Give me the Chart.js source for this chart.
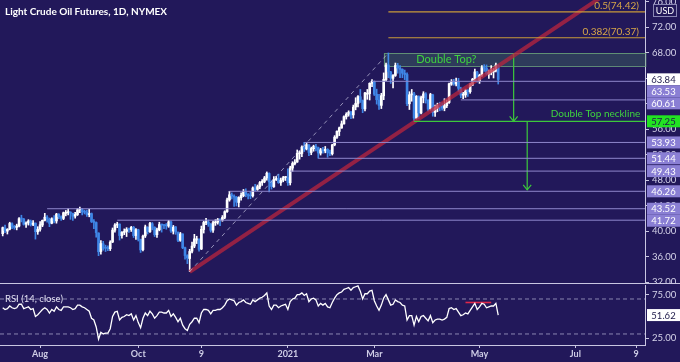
<!DOCTYPE html>
<html>
<head>
<meta charset="utf-8">
<script src="https://cdn.jsdelivr.net/npm/chart.js@4.4.1/dist/chart.umd.min.js"></script>
<style>
  html, body { margin: 0; padding: 0; background: #22185a; }
  #wrap { position: relative; width: 680px; height: 362px; overflow: hidden; }
  #price { position: absolute; left: 0; top: 0; }
  #rsi { position: absolute; left: 0; top: 284px; }
</style>
</head>
<body>
<div id="wrap">
  <canvas id="price" width="680" height="284"></canvas>
  <canvas id="rsi" width="680" height="78"></canvas>
</div>
<script>
// daily candles [open, high, low, close], Jul 10 2020 .. May 13 2021
var ohlc = [
  // Jul
  [39.60,40.65,39.25,40.55],[40.50,40.95,39.75,40.10],[40.00,40.40,39.55,40.29],[40.30,41.40,40.20,41.20],
  [41.15,41.30,40.40,40.75],[40.70,40.90,40.30,40.59],[40.60,41.10,40.20,40.81],[40.80,42.15,40.65,41.96],
  [41.95,42.50,41.45,41.90],[41.90,42.00,40.95,41.07],[41.10,41.45,40.60,41.29],[41.30,41.80,40.95,41.60],
  [41.55,41.75,40.80,41.04],[41.05,41.65,40.85,41.27],[41.25,41.30,38.75,39.92],[39.90,40.70,39.50,40.27],
  // Aug
  [40.30,41.50,40.00,41.01],[40.95,41.75,40.70,41.70],[41.70,42.80,41.60,42.19],[42.20,42.45,41.40,41.95],
  [41.90,42.05,40.70,41.22],[41.25,42.10,41.15,41.94],[41.95,42.45,41.30,41.61],[41.60,42.80,41.25,42.67],
  [42.65,42.75,41.95,42.24],[42.25,42.40,41.70,42.01],[42.00,43.00,41.80,42.89],[42.80,43.25,42.40,42.89],
  [42.90,43.50,42.55,42.93],[42.90,43.05,41.85,42.82],[42.80,42.85,41.70,42.34],[42.35,42.95,42.05,42.62],
  [42.60,43.55,42.45,43.35],[43.35,43.78,42.90,43.39],[43.40,43.55,42.55,43.04],[43.00,43.30,42.70,42.97],
  [42.95,43.30,42.30,42.61],
  // Sep
  [42.60,43.45,42.25,42.76],[42.75,42.85,41.35,41.51],[41.50,41.80,40.40,41.37],[41.35,41.45,39.05,39.77],
  [39.70,39.75,36.15,36.76],[36.80,38.50,36.40,38.05],[38.00,38.40,37.00,37.30],[37.35,37.80,36.80,37.33],
  [37.30,37.70,36.95,37.26],[37.25,38.50,36.95,38.28],[38.30,40.50,38.20,40.16],[40.15,41.20,39.85,40.97],
  [40.95,41.40,40.55,41.11],[41.10,41.15,38.60,39.31],[39.30,39.95,38.90,39.80],[39.80,40.35,39.45,39.93],
  [39.95,40.55,39.15,40.31],[40.30,40.50,39.80,40.25],[40.25,40.75,39.95,40.60],[40.60,40.75,39.00,39.29],
  [39.30,40.40,38.70,40.22],
  // Oct
  [40.20,40.30,38.45,38.72],[38.70,38.75,36.65,37.05],[37.10,39.40,36.90,39.22],[39.25,40.95,39.00,40.67],
  [40.60,40.70,39.55,39.95],[39.90,41.40,39.80,41.19],[41.15,41.35,40.20,40.60],[40.60,40.70,39.15,39.43],
  [39.45,40.50,39.00,40.20],[40.20,41.40,40.05,41.04],[41.00,41.10,39.85,40.96],[40.95,41.05,40.40,40.88],
  [40.85,41.20,40.30,40.83],[40.80,41.70,40.60,41.46],[41.45,41.60,39.80,40.03],[40.00,40.90,39.55,40.64],
  [40.65,40.75,39.50,39.85],[39.80,39.90,38.35,38.56],[38.55,39.80,38.40,39.57],[39.55,39.60,37.25,37.39],
  [37.40,37.50,35.60,36.17],[36.15,36.30,34.90,35.79],
  // Nov
  [35.70,37.15,33.64,36.81],[36.85,38.30,36.60,37.66],[37.65,39.50,37.40,38.79],[38.60,39.20,38.05,38.79],
  [38.75,38.80,36.85,37.14],[37.20,40.80,37.10,40.29],[40.25,41.55,39.70,41.36],[41.35,42.00,41.00,41.45],
  [41.40,41.75,40.75,41.12],[41.10,41.20,39.85,40.13],[40.15,41.60,39.80,41.34],[41.30,41.80,40.90,41.43],
  [41.40,42.00,41.10,41.82],[41.80,41.95,40.85,41.74],[41.75,42.45,41.55,42.15],[42.15,43.20,41.95,43.06],
  [43.05,45.20,42.95,44.91],[44.90,46.25,44.70,45.71],[45.70,46.00,45.05,45.53],[45.50,45.70,43.90,45.34],
  // Dec
  [45.35,45.45,43.95,44.55],[44.50,45.40,43.80,45.28],[45.25,46.00,44.85,45.64],[45.60,46.55,45.40,46.26],
  [46.25,46.65,45.40,45.76],[45.75,45.90,45.05,45.60],[45.60,46.20,45.10,45.52],[45.55,46.95,45.35,46.78],
  [46.75,47.35,46.30,46.57],[46.55,47.25,46.40,46.99],[46.95,47.80,46.65,47.62],[47.60,48.10,47.20,47.82],
  [47.80,48.60,47.60,48.36],[48.35,49.30,48.00,49.10],[49.05,49.15,46.15,47.74],[47.75,47.95,46.60,47.02],
  [47.00,48.55,46.85,48.12],[48.10,48.60,47.95,48.23],[48.25,48.95,47.50,47.62],[47.60,48.35,47.20,48.00],
  [48.00,48.60,47.75,48.40],[48.40,48.60,47.95,48.52],
  // Jan
  [48.40,49.80,47.20,47.62],[47.60,50.20,47.25,49.93],[49.90,50.90,49.40,50.63],[50.60,51.25,50.40,50.83],
  [50.85,52.75,50.80,52.24],[52.15,52.60,51.30,52.25],[52.20,53.40,51.70,53.21],[53.20,53.95,52.50,52.91],
  [52.90,53.90,52.75,53.57],[53.55,53.60,51.85,52.36],[52.35,53.20,52.00,52.98],[52.95,53.50,52.55,53.31],
  [53.30,53.65,52.60,53.13],[53.10,53.20,51.45,52.27],[52.25,53.00,51.95,52.77],[52.75,53.15,52.25,52.61],
  [52.60,53.30,52.30,52.85],[52.85,52.95,51.60,52.34],[52.30,52.75,51.85,52.20],
  // Feb
  [52.15,53.65,51.95,53.55],[53.55,55.00,53.40,54.76],[54.75,55.75,54.55,55.69],[55.65,56.35,55.00,56.23],
  [56.20,57.30,56.15,56.85],[56.85,58.10,56.80,57.97],[57.95,58.60,57.60,58.36],[58.35,58.90,58.05,58.68],
  [58.65,58.80,57.65,58.24],[58.25,59.80,57.75,59.47],[59.50,60.95,59.05,60.05],[60.05,61.30,59.50,61.14],
  [61.10,62.25,60.20,60.52],[60.50,60.60,58.60,59.24],[59.20,61.80,58.90,61.70],[61.50,62.25,60.70,61.67],
  [61.60,63.30,60.60,63.22],[63.20,63.80,62.70,63.53],[63.50,63.60,61.30,61.50],
  // Mar
  [61.50,62.30,59.95,60.64],[60.60,61.50,59.10,59.75],[59.75,61.65,59.25,61.28],[61.25,64.85,60.65,63.83],
  [63.80,66.40,63.60,66.09],[66.10,67.98,64.10,65.05],[65.00,65.10,63.20,64.01],[64.00,64.60,62.50,64.44],
  [64.45,66.40,64.30,66.02],[66.00,66.35,64.80,65.61],[65.60,66.00,64.10,65.39],[65.40,65.50,64.10,64.80],
  [64.80,65.30,63.80,64.60],[64.60,64.85,59.70,60.00],[60.00,61.90,59.10,61.42],[61.40,62.25,60.40,61.55],
  [61.55,61.80,57.25,57.76],[57.75,61.30,57.60,61.18],[61.15,61.25,57.65,58.56],[58.55,61.20,58.40,60.97],
  [60.95,61.90,60.15,61.56],[61.55,61.75,60.10,60.55],[60.55,60.65,58.85,59.16],
  // Apr
  [59.20,61.65,59.00,61.45],[61.40,61.50,58.05,58.65],[58.65,59.80,58.00,59.33],[59.35,60.10,58.75,59.77],
  [59.75,60.25,58.90,59.60],[59.60,60.15,59.00,59.32],[59.30,60.80,58.90,59.70],[59.70,60.60,59.40,60.18],
  [60.20,63.25,60.05,63.15],[63.10,63.80,62.90,63.46],[63.45,63.85,62.90,63.13],[63.10,64.05,62.80,63.38],
  [63.40,64.00,61.95,62.44],[62.40,62.60,60.95,61.35],[61.35,61.80,60.80,61.43],[61.40,62.30,61.00,62.14],
  [62.10,62.25,61.15,61.91],[61.90,63.20,61.65,62.94],[62.95,64.00,62.85,63.86],[63.85,65.45,63.60,65.01],
  [65.00,65.10,63.40,63.58],
  // May
  [63.60,64.65,63.20,64.49],[64.50,66.00,64.30,65.69],[65.70,66.15,65.10,65.63],[65.60,66.10,64.55,64.71],
  [64.70,65.30,64.00,64.90],[64.95,66.00,64.55,65.28],[65.00,65.55,64.05,65.28],[65.25,66.40,65.00,66.08],
  [66.05,66.15,63.10,63.82]
];

var rsi = [
  60,58,59,62,60,59,60,64,64,59,60,61,58,59,50,52,
  55,58,60,58,54,58,56,61,58,57,61,61,61,60,58,59,63,63,61,60,58,
  56,48,46,38,24,32,30,31,31,36,50,55,56,46,49,50,52,51,53,46,51,
  43,37,48,54,51,56,53,48,51,55,55,54,54,57,50,53,49,44,48,40,36,34,
  41,44,48,48,43,54,58,58,57,53,57,57,58,58,60,63,68,70,69,68,
  63,66,67,69,66,65,64,69,67,69,71,72,74,77,62,58,63,63,60,62,63,64,
  58,67,70,71,75,75,77,74,76,67,70,71,69,62,65,63,65,61,60,
  66,71,75,77,78,81,82,83,80,83,84,85,79,70,76,76,79,80,68,
  62,57,63,71,75,69,63,64,69,67,66,63,62,46,51,51,40,50,44,50,51,48,45,
  51,43,46,47,47,46,47,49,59,60,58,59,55,51,52,54,53,57,61,65,58,
  61,65,64,60,61,62,62,65,51.62
];

var xTickIdx = [16, 58, 85, 122, 159, 204, 245, 271];
var xTickLabels = ['Aug', 'Oct', '9', '2021', 'Mar', 'May', 'Jul', '9'];
var priceTicks = [32, 36, 40, 44, 48, 52, 56, 60, 64, 68, 72, 76];
var rsiTicks = [25, 75];

var lastPrice = 63.84;
var levelValues = [63.53, 60.61, 53.93, 51.44, 49.43, 46.26, 43.52, 41.72];
var levelStarts = [158, 196, 129, 135, 123, 97, 19, 49];
var neckline = 57.25, necklineStart = 176;
var fibValues = [74.42, 70.37];
var fibLabels = ['0.5(74.42)', '0.382(70.37)'];
var fibStart = 165;
var topBox = [163, 65.95, 67.98];          // start index, low, high
var trendLine = [[80, 33.6], [262, 78.2]];
var dashLine = [[80, 33.64], [165, 67.98]];
var arrows = [[218.6, 67.98, 57.25], [224.4, 57.25, 46.5]];
var rsiMark = [[198, 66], [209, 66]];

var xMin = -1.16, xMax = 274.8;
var BG = '#22185a', UP = '#ffffff', DOWN = '#3f86e6';
var AXIS = '#c9c6e2', LEVEL = '#8f87cc', TAG = '#8a7fd4', GREEN = '#3cc83c', GOLD = '#c99a3a';

Chart.defaults.font.family = 'Lato';

var candleColor = ohlc.map(function(d) { return d[3] >= d[0] ? UP : DOWN; });

function seg(pts, color, width, dash) {
  return {
    type: 'line',
    data: pts.map(function(p) { return {x: p[0], y: p[1]}; }),
    borderColor: color, borderWidth: width || 1, borderDash: dash || [],
    pointRadius: 0, tension: 0, order: 1
  };
}

var priceSets = [
  {
    type: 'bar', grouped: false, order: 10, barThickness: 1,
    data: ohlc.map(function(d, i) { return {x: i, y: [d[2], d[1]]}; }),
    backgroundColor: candleColor
  },
  {
    type: 'bar', grouped: false, order: 9, barThickness: 2, minBarLength: 1,
    data: ohlc.map(function(d, i) { return {x: i, y: [Math.min(d[0], d[3]), Math.max(d[0], d[3])]}; }),
    backgroundColor: candleColor
  }
];
for (var k = 0; k < levelValues.length; k++) {
  priceSets.push(seg([[levelStarts[k], levelValues[k]], [xMax, levelValues[k]]], LEVEL, 1));
}
priceSets.push(seg([[necklineStart, neckline], [xMax, neckline]], GREEN, 1.2));
for (var f = 0; f < fibValues.length; f++) {
  priceSets.push(seg([[fibStart, fibValues[f]], [xMax, fibValues[f]]], GOLD, 1.2));
}
priceSets.push(seg(dashLine, 'rgba(200,198,225,0.7)', 1, [4, 4]));
priceSets.push(seg(trendLine, 'rgba(186,36,62,0.75)', 4));
arrows.forEach(function(a) {
  priceSets.push(seg([[a[0], a[1]], [a[0], a[2]]], GREEN, 1.2));
});

function tag(ctx, x, y, text, bg, fg) {
  ctx.fillStyle = bg;
  ctx.fillRect(x, y - 6, 33, 12);
  ctx.fillStyle = fg;
  ctx.font = '9.5px Lato';
  ctx.textAlign = 'center';
  ctx.textBaseline = 'middle';
  ctx.fillText(text, x + 16.5, y + 0.5);
}

var pricePlugin = {
  id: 'pricePlugin',
  beforeDatasetsDraw: function(chart) {
    var ctx = chart.ctx, xs = chart.scales.x, ys = chart.scales.y;
    var x0 = xs.getPixelForValue(topBox[0]), x1 = xs.getPixelForValue(xMax);
    var yT = ys.getPixelForValue(topBox[2]), yB = ys.getPixelForValue(topBox[1]);
    ctx.save();
    ctx.fillStyle = 'rgba(70,125,95,0.35)';
    ctx.fillRect(x0, yT, x1 - x0, yB - yT);
    ctx.strokeStyle = 'rgba(110,165,125,0.8)';
    ctx.lineWidth = 1;
    ctx.strokeRect(Math.round(x0) + 0.5, Math.round(yT) + 0.5, x1 - x0, Math.round(yB - yT));
    ctx.restore();
  },
  afterDatasetsDraw: function(chart) {
    var ctx = chart.ctx, xs = chart.scales.x, ys = chart.scales.y, area = chart.chartArea;
    ctx.save();
    // arrow heads
    ctx.strokeStyle = GREEN;
    ctx.lineWidth = 1.2;
    arrows.forEach(function(a) {
      var x = xs.getPixelForValue(a[0]), y = ys.getPixelForValue(a[2]);
      ctx.beginPath();
      ctx.moveTo(x - 4, y - 5); ctx.lineTo(x, y); ctx.lineTo(x + 4, y - 5);
      ctx.stroke();
    });
    ctx.fillStyle = '#3fd43f';
    ctx.textBaseline = 'middle';
    ctx.font = '11px Lato';
    ctx.textAlign = 'center';
    ctx.fillText('Double Top?', xs.getPixelForValue(189.8), ys.getPixelForValue((topBox[1] + topBox[2]) / 2));
    ctx.font = '10px Lato';
    ctx.textAlign = 'left';
    ctx.fillText('Double Top neckline', xs.getPixelForValue(234.5), ys.getPixelForValue(58.5));
    // fib labels
    ctx.fillStyle = '#d8a648';
    ctx.font = '10px Lato';
    ctx.textAlign = 'right';
    ctx.textBaseline = 'bottom';
    for (var f = 0; f < fibValues.length; f++) {
      ctx.fillText(fibLabels[f], area.right - 6, ys.getPixelForValue(fibValues[f]) - 1);
    }
    ctx.restore();
  },
  afterDraw: function(chart) {
    var ctx = chart.ctx, ys = chart.scales.y, area = chart.chartArea;
    ctx.save();
    var tags = [{v: lastPrice, bg: '#ffffff', fg: '#1e1a4a'}, {v: neckline, bg: '#22e222', fg: '#1e1a4a'}];
    levelValues.forEach(function(v) { tags.push({v: v, bg: TAG, fg: '#ffffff'}); });
    tags.sort(function(a, b) { return b.v - a.v; });
    var prev = -100;
    tags.forEach(function(t) {
      var y = Math.max(ys.getPixelForValue(t.v), prev + 12);
      prev = y;
      tag(ctx, area.right + 2, y, t.v.toFixed(2), t.bg, t.fg);
    });
    // currency box
    ctx.fillStyle = BG;
    ctx.fillRect(653, 4, 24, 13);
    ctx.strokeStyle = '#8a87b4';
    ctx.lineWidth = 1;
    ctx.strokeRect(653.5, 4.5, 23, 12);
    ctx.fillStyle = '#ffffff';
    ctx.font = '9px Lato';
    ctx.textAlign = 'center';
    ctx.textBaseline = 'middle';
    ctx.fillText('USD', 665, 11);
    // title
    ctx.textAlign = 'left';
    ctx.font = 'bold 10px Lato';
    ctx.fillText('Light Crude Oil Futures, 1D, NYMEX', 5, 12);
    // pane separator
    ctx.strokeStyle = AXIS;
    ctx.beginPath();
    ctx.moveTo(0, chart.height - 0.5); ctx.lineTo(chart.width, chart.height - 0.5);
    ctx.stroke();
    ctx.restore();
  }
};

new Chart(document.getElementById('price'), {
  type: 'bar',
  data: {datasets: priceSets},
  options: {
    responsive: false, animation: false, events: [],
    layout: {padding: 0},
    plugins: {legend: {display: false}, tooltip: {enabled: false}},
    scales: {
      x: {type: 'linear', min: xMin, max: xMax, display: false, offset: false},
      y: {
        position: 'right', min: 31.7, max: 76.3,
        afterFit: function(s) { s.width = 35; s.paddingTop = 0; s.paddingBottom = 0; },
        afterBuildTicks: function(s) { s.ticks = priceTicks.map(function(v) { return {value: v}; }); },
        ticks: {color: '#d6d4ea', font: {size: 9.5}, padding: 3, callback: function(v) { return v.toFixed(2); }},
        grid: {drawOnChartArea: false, tickLength: 4, color: AXIS},
        border: {color: AXIS}
      }
    }
  },
  plugins: [pricePlugin]
});

var rsiPlugin = {
  id: 'rsiPlugin',
  afterDraw: function(chart) {
    var ctx = chart.ctx, ys = chart.scales.y, area = chart.chartArea;
    ctx.save();
    ctx.fillStyle = '#e2e0f2';
    ctx.font = '9.5px Lato';
    ctx.textAlign = 'left';
    ctx.textBaseline = 'middle';
    ctx.fillText('RSI (14, close)', 5, area.top + 14);
    var last = rsi[rsi.length - 1];
    tag(ctx, area.right + 2, ys.getPixelForValue(last), last.toFixed(2), '#ffffff', '#1e1a4a');
    ctx.restore();
  }
};

new Chart(document.getElementById('rsi'), {
  type: 'line',
  data: {
    datasets: [
      {
        data: rsi.map(function(v, i) { return {x: i, y: v}; }),
        borderColor: '#ffffff', borderWidth: 1.3, pointRadius: 0, tension: 0, order: 1
      },
      seg([[xMin, 70], [xMax, 70]], '#8a86b2', 1, [4, 3]),
      seg([[xMin, 30], [xMax, 30]], '#8a86b2', 1, [4, 3]),
      seg(rsiMark, '#e0284a', 1.6)
    ]
  },
  options: {
    responsive: false, animation: false, events: [],
    layout: {padding: {top: 1}},
    plugins: {legend: {display: false}, tooltip: {enabled: false}},
    scales: {
      x: {
        type: 'linear', min: xMin, max: xMax, offset: false,
        afterFit: function(s) { s.height = 17; s.paddingLeft = 0; s.paddingRight = 0; },
        afterBuildTicks: function(s) { s.ticks = xTickIdx.map(function(v) { return {value: v}; }); },
        ticks: {
          autoSkip: false, maxRotation: 0, padding: 1, color: '#cfcde6',
          font: {size: 9, weight: 'bold'},
          callback: function(v, i) { return xTickLabels[i]; }
        },
        grid: {drawOnChartArea: false, tickLength: 3, color: AXIS},
        border: {color: AXIS}
      },
      y: {
        position: 'right', min: 17.4, max: 86,
        afterFit: function(s) { s.width = 35; s.paddingTop = 0; s.paddingBottom = 0; },
        afterBuildTicks: function(s) { s.ticks = rsiTicks.map(function(v) { return {value: v}; }); },
        ticks: {color: '#d6d4ea', font: {size: 9.5}, padding: 3, callback: function(v) { return v.toFixed(2); }},
        grid: {drawOnChartArea: false, tickLength: 4, color: AXIS},
        border: {color: AXIS}
      }
    }
  },
  plugins: [rsiPlugin]
});
</script>
</body>
</html>
